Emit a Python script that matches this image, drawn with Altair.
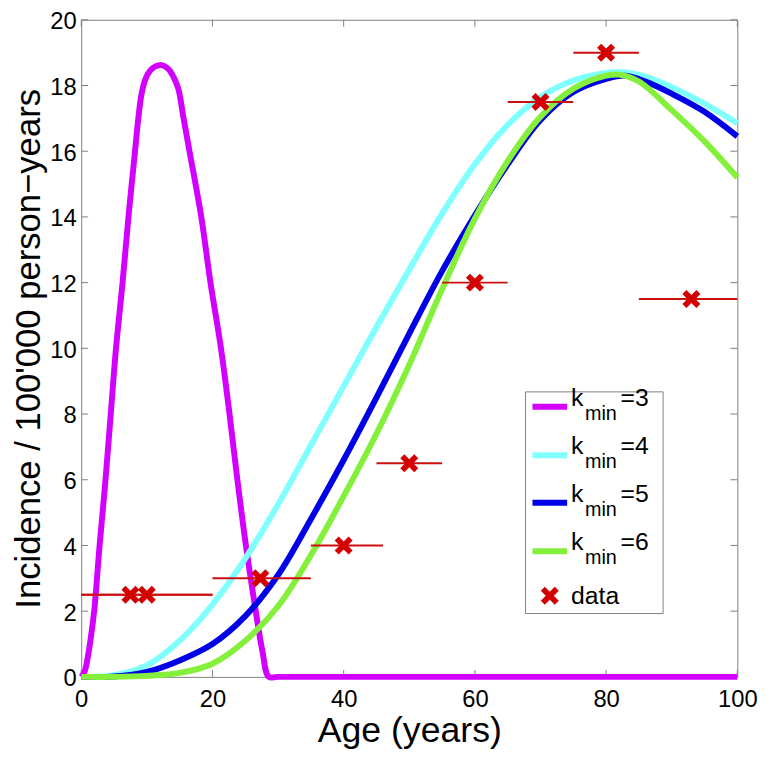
import altair as alt
import pandas as pd

# ---------------- data ----------------
kmin_values = [3, 4, 5, 6]
series_colors = ["#D200FF", "#80FFFF", "#0000E6", "#85F03C"]

age_k3 = [0, 0.5, 1, 1.5, 2, 2.8, 3.7, 4.5, 5.3, 6.3, 7.2, 8.2, 8.7, 9.2, 9.8, 10.5, 11.3,
          12.3, 13.3, 14.1, 14.8, 15.6, 16.5, 18.3, 19.7, 21.3, 22.6, 23.8, 25.1, 26.6,
          27.6, 28.6, 30, 100]
inc_k3 = [0, 0.15, 0.6, 1.25, 2.05, 4, 6, 8, 10, 12, 14, 16, 17.0, 17.75, 18.2, 18.45,
          18.58, 18.62, 18.5, 18.25, 17.9, 17.0, 16.0, 14, 12, 10, 8, 6, 4, 2, 0.8, 0, 0, 0]

age_k4 = [0, 5, 10, 15, 20, 25, 30, 35, 40, 45, 50, 55, 60, 65, 70, 75, 80, 83, 86, 90, 95, 100]
inc_k4 = [0, 0.05, 0.35, 1.1, 2.2, 3.6, 5.25, 7.05, 8.85, 10.65, 12.4, 14.1, 15.6, 16.8,
          17.65, 18.15, 18.38, 18.4, 18.27, 17.95, 17.45, 16.85]

age_k5 = [0, 5, 10, 15, 20, 25, 30, 35, 40, 45, 50, 55, 60, 65, 70, 75, 80, 83, 86, 90, 95, 100]
inc_k5 = [0, 0.01, 0.15, 0.5, 1.0, 1.85, 3.1, 4.8, 6.6, 8.5, 10.45, 12.35, 14.05, 15.6,
          16.95, 17.8, 18.2, 18.3, 18.12, 17.75, 17.2, 16.45]

age_k6 = [0, 5, 10, 15, 20, 25, 30, 35, 40, 45, 50, 55, 60, 65, 70, 75, 80, 82, 85, 90, 95, 100]
inc_k6 = [0, 0, 0.03, 0.12, 0.4, 1.1, 2.15, 3.7, 5.5, 7.4, 9.5, 11.8, 13.95, 15.7, 17.05,
          17.9, 18.3, 18.33, 18.12, 17.25, 16.3, 15.2]

data_age = [7.5, 10, 27.3, 40, 50, 60, 70, 80, 93]
data_inc = [2.5, 2.5, 3, 4, 6.5, 12, 17.5, 19, 11.5]
data_lo = [0, 0, 20, 35, 45, 55, 65, 75, 85]
data_hi = [20, 20, 35, 46, 55, 65, 75, 85, 100]

x_ticks = [0, 20, 40, 60, 80, 100]
y_ticks = [0, 2, 4, 6, 8, 10, 12, 14, 16, 18, 20]

# ---------------- layout / style ----------------
W, H = 663, 664
FONT = "Liberation Sans"
GRAY = "#7f7f7f"
RED = "#D40000"
TICK = 7
X_PATH = ("M-1,-0.55L-0.55,-1L0,-0.45L0.55,-1L1,-0.55L0.45,0L1,0.55L0.55,1"
          "L0,0.45L-0.55,1L-1,0.55L-0.45,0Z")
MARK_SIZE = 330

xs = alt.Scale(domain=[0, 100], nice=False, zero=False)
ys = alt.Scale(domain=[0, 20], nice=False, zero=False)

AX = alt.Axis(values=x_ticks, title="Age (years)", ticks=False, tickSize=0, domain=False,
              grid=False, labelFont=FONT, labelFontSize=24, labelColor="black",
              labelPadding=11, labelFlush=False, titleFont=FONT, titleFontSize=36,
              titleFontWeight="normal", titleColor="black", titleBaseline="alphabetic",
              titleY=65)
AY = alt.Axis(values=y_ticks, title="Incidence / 100'000 person\u2212years", ticks=False,
              tickSize=0, domain=False, grid=False, labelFont=FONT, labelFontSize=24,
              labelColor="black", labelPadding=5, labelOffset=2, labelFlush=False,
              titleFont=FONT, titleFontSize=35, titleFontWeight="normal", titleColor="black",
              titleAngle=270, titleAlign="center", titleBaseline="alphabetic",
              titleX=-42, titleY=H / 2)

X = lambda f: alt.X(f, scale=xs, axis=AX)
Y = lambda f: alt.Y(f, scale=ys, axis=AY)

layers = []

# inward ticks on all four sides
xt = pd.DataFrame({"t": x_ticks})
yt = pd.DataFrame({"t": y_ticks})
layers.append(alt.Chart(xt).mark_rule(color=GRAY, strokeWidth=1).encode(
    x=X("t:Q"), y=alt.value(H), y2=alt.value(H - TICK)))
layers.append(alt.Chart(xt).mark_rule(color=GRAY, strokeWidth=1).encode(
    x=X("t:Q"), y=alt.value(0), y2=alt.value(TICK)))
layers.append(alt.Chart(yt).mark_rule(color=GRAY, strokeWidth=1).encode(
    y=Y("t:Q"), x=alt.value(0), x2=alt.value(TICK)))
layers.append(alt.Chart(yt).mark_rule(color=GRAY, strokeWidth=1).encode(
    y=Y("t:Q"), x=alt.value(W), x2=alt.value(W - TICK)))

# model curves
curves = [(age_k3, inc_k3), (age_k4, inc_k4), (age_k5, inc_k5), (age_k6, inc_k6)]
for (a, v), k, c in zip(curves, kmin_values, series_colors):
    df = pd.DataFrame({"age": a, "inc": v, "series": f"kmin={k}"})
    layers.append(alt.Chart(df).mark_line(strokeWidth=6, color=c,
                                          interpolate="catmull-rom").encode(
        x=X("age:Q"), y=Y("inc:Q")))

# data with horizontal bars
ddf = pd.DataFrame({"age": data_age, "inc": data_inc, "lo": data_lo, "hi": data_hi})
layers.append(alt.Chart(ddf).mark_rule(color="#CC1010", strokeWidth=2).encode(
    x=X("lo:Q"), x2="hi:Q", y=Y("inc:Q")))
layers.append(alt.Chart(ddf).mark_point(shape=X_PATH, filled=True, size=MARK_SIZE, color=RED,
                                        opacity=1).encode(x=X("age:Q"), y=Y("inc:Q")))

# legend (manual, to get the k_min subscripts)
LX0, LX1, LY0, LY1 = 449, 588, 376, 600
LINE_X0, LINE_X1 = 456, 491
TEXT_X = 495
ROW_Y = [391, 440, 488, 537]
DATA_Y = 582
one = pd.DataFrame({"a": [0]})
layers.append(alt.Chart(one).mark_rect(fill="white", stroke=GRAY, strokeWidth=1).encode(
    x=alt.value(LX0), x2=alt.value(LX1), y=alt.value(LY0), y2=alt.value(LY1)))
for k, c, ry in zip(kmin_values, series_colors, ROW_Y):
    layers.append(alt.Chart(one).mark_rule(color=c, strokeWidth=6).encode(
        x=alt.value(LINE_X0), x2=alt.value(LINE_X1), y=alt.value(ry)))
    layers.append(alt.Chart(one).mark_text(align="left", baseline="alphabetic", font=FONT,
                                           fontSize=25, color="black").encode(
        x=alt.value(TEXT_X), y=alt.value(ry - 1), text=alt.value("k")))
    layers.append(alt.Chart(one).mark_text(align="left", baseline="alphabetic", font=FONT,
                                           fontSize=20, color="black").encode(
        x=alt.value(TEXT_X + 14), y=alt.value(ry + 13), text=alt.value("min")))
    layers.append(alt.Chart(one).mark_text(align="left", baseline="alphabetic", font=FONT,
                                           fontSize=25, color="black").encode(
        x=alt.value(TEXT_X + 50), y=alt.value(ry - 1), text=alt.value(f"={k}")))
layers.append(alt.Chart(one).mark_point(shape=X_PATH, filled=True, size=MARK_SIZE, color=RED,
                                        opacity=1).encode(
    x=alt.value((LINE_X0 + LINE_X1) / 2), y=alt.value(DATA_Y)))
layers.append(alt.Chart(one).mark_text(align="left", baseline="middle", font=FONT,
                                       fontSize=25, color="black").encode(
    x=alt.value(TEXT_X), y=alt.value(DATA_Y), text=alt.value("data")))

chart = alt.layer(*layers).properties(
    width=W, height=H, autosize="none",
    padding={"left": 74, "top": 8, "right": 31, "bottom": 71},
    background="white",
).configure_view(stroke=GRAY, strokeWidth=1)

chart.save("out.html", embed_options={"renderer": "svg", "actions": False})
